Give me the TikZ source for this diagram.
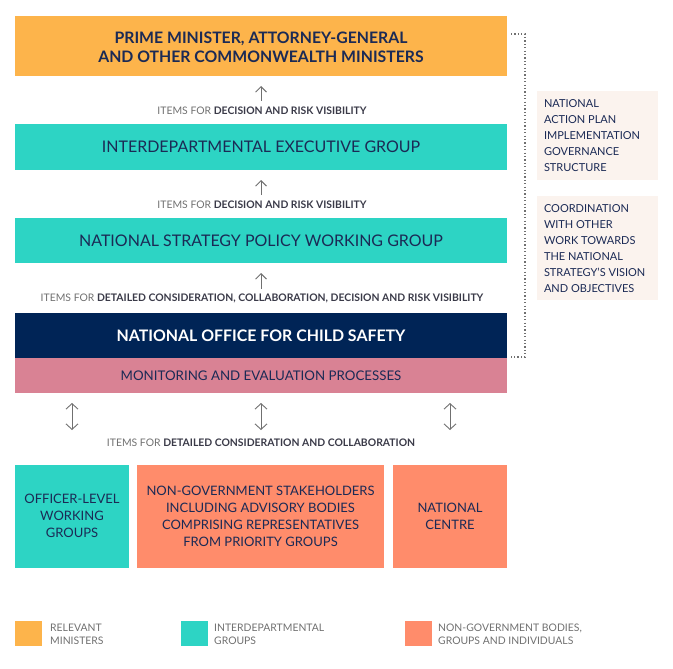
\documentclass[tikz,border=0pt]{standalone}
\usepackage{fontspec}
\setmainfont{Lato}
\usetikzlibrary{arrows.meta}
\definecolor{cOrange}{HTML}{FDB44B}
\definecolor{cTeal}{HTML}{2DD4C4}
\definecolor{cNavy}{HTML}{002456}
\definecolor{cPink}{HTML}{D98294}
\definecolor{cSalmon}{HTML}{FF8C6B}
\definecolor{cPeach}{HTML}{FBF3EE}
\definecolor{cText}{HTML}{1B2A55}
\definecolor{cGray}{HTML}{707070}
\definecolor{cDark}{HTML}{3A3A48}
\begin{document}
\begin{tikzpicture}[x=1pt,y=-1pt,
  box/.style={inner sep=0pt, outer sep=0pt, align=center, text=cText},
  sidebox/.style={fill=cPeach, inner sep=0pt, outer sep=0pt, text=cText, font=\fontsize{11}{16}\selectfont},
  itemlbl/.style={inner sep=0pt, text=cGray, font=\fontsize{10.4}{12}\selectfont},
  legtxt/.style={inner sep=0pt, anchor=west, align=left, text=cGray, font=\fontsize{10.4}{13}\selectfont},
  upar/.style={draw=cGray, line width=0.9pt, -{Straight Barb[length=5.5pt,width=11pt]}},
  dblar/.style={draw=cGray, line width=0.9pt, {Straight Barb[length=5.5pt,width=12pt]}-{Straight Barb[length=5.5pt,width=12pt]}},
  dotline/.style={draw=cGray, line width=1.2pt, dash pattern=on 1.2pt off 2.2pt}
]
\useasboundingbox (0,0) rectangle (673,669);

% main stack
\node[box, fill=cOrange, minimum width=492pt, minimum height=60pt,
  font=\fontsize{15.8}{18.5}\selectfont\bfseries] (pm) at (261,46) {};
\node[box, font=\fontsize{15.8}{18.5}\selectfont\bfseries] (pmt) at (261,47.5)
  {PRIME MINISTER, ATTORNEY-GENERAL\\AND OTHER COMMONWEALTH MINISTERS};
\node[box, fill=cTeal, minimum width=492pt, minimum height=46pt,
  font=\fontsize{16}{18}\selectfont] (ieg) at (261,147) {INTERDEPARTMENTAL EXECUTIVE GROUP};
\node[box, fill=cTeal, minimum width=492pt, minimum height=45pt,
  font=\fontsize{16}{18}\selectfont] (nsp) at (261,240.5) {NATIONAL STRATEGY POLICY WORKING GROUP};
\node[box, fill=cNavy, text=white, minimum width=492pt, minimum height=45pt,
  font=\fontsize{15.9}{18}\selectfont\bfseries] (nocs) at (261,335.5) {NATIONAL OFFICE FOR CHILD SAFETY};
\node[box, fill=cPink, minimum width=492pt, minimum height=35pt,
  font=\fontsize{13.3}{16}\selectfont] (mon) at (261,375.5) {MONITORING AND EVALUATION PROCESSES};

% labels
\node[itemlbl] (l1) at (262,110.5) {ITEMS FOR \textcolor{cDark}{\bfseries DECISION AND RISK VISIBILITY}};
\node[itemlbl] (l2) at (262,204.5) {ITEMS FOR \textcolor{cDark}{\bfseries DECISION AND RISK VISIBILITY}};
\node[itemlbl] (l3) at (262,298.5) {ITEMS FOR \textcolor{cDark}{\bfseries DETAILED CONSIDERATION, COLLABORATION, DECISION AND RISK VISIBILITY}};
\node[itemlbl] (l4) at (261,442.5) {ITEMS FOR \textcolor{cDark}{\bfseries DETAILED CONSIDERATION AND COLLABORATION}};

% up arrows
\coordinate (a1s) at (261,101); \coordinate (a1e) at (261,86);
\coordinate (a2s) at (261,195); \coordinate (a2e) at (261,180);
\coordinate (a3s) at (261,289); \coordinate (a3e) at (261,273);
\draw[upar] (a1s) -- (a1e);
\draw[upar] (a2s) -- (a2e);
\draw[upar] (a3s) -- (a3e);

% double arrows
\coordinate (d1s) at (72,403); \coordinate (d1e) at (72,430);
\coordinate (d2s) at (261,403); \coordinate (d2e) at (261,430);
\coordinate (d3s) at (450,403); \coordinate (d3e) at (450,430);
\draw[dblar] (d1s) -- (d1e);
\draw[dblar] (d2s) -- (d2e);
\draw[dblar] (d3s) -- (d3e);

% bottom boxes
\node[box, fill=cTeal, minimum width=114pt, minimum height=103pt,
  font=\fontsize{13}{17}\selectfont] (olw) at (72,516) {OFFICER-LEVEL\\WORKING\\GROUPS};
\node[box, fill=cSalmon, minimum width=247pt, minimum height=103pt,
  font=\fontsize{13}{17}\selectfont] (ngs) at (260.5,516)
  {NON-GOVERNMENT STAKEHOLDERS\\INCLUDING ADVISORY BODIES\\COMPRISING REPRESENTATIVES\\FROM PRIORITY GROUPS};
\node[box, fill=cSalmon, minimum width=114pt, minimum height=103pt,
  font=\fontsize{13}{17}\selectfont] (nc) at (450,516) {NATIONAL\\CENTRE};

% side boxes
\node[sidebox, minimum width=121pt, minimum height=89pt] (sb1) at (597.5,135.5) {};
\node[sidebox, anchor=north west, align=left] (sb1t) at (544,99.5) {NATIONAL\\ACTION PLAN\\IMPLEMENTATION\\GOVERNANCE\\STRUCTURE};
\node[sidebox, minimum width=121pt, minimum height=104pt] (sb2) at (597.5,248) {};
\node[sidebox, anchor=north west, align=left] (sb2t) at (544,204.5) {COORDINATION\\WITH OTHER\\WORK TOWARDS\\THE NATIONAL\\STRATEGY'S VISION\\AND OBJECTIVES};

% dotted bracket
\coordinate (bt1) at (511,34); \coordinate (bt2) at (525,34);
\coordinate (bb2) at (525,357); \coordinate (bb1) at (511,357);
\draw[dotline] (bt1) -- (bt2) -- (bb2) -- (bb1);

% legend
\node[fill=cOrange, minimum width=27pt, minimum height=25pt, inner sep=0pt] (lg1) at (28.5,633.5) {};
\node[legtxt] (lg1t) at (50,634) {RELEVANT\\MINISTERS};
\node[fill=cTeal, minimum width=27pt, minimum height=25pt, inner sep=0pt] (lg2) at (194.5,633.5) {};
\node[legtxt] (lg2t) at (214,634) {INTERDEPARTMENTAL\\GROUPS};
\node[fill=cSalmon, minimum width=27pt, minimum height=25pt, inner sep=0pt] (lg3) at (418.5,633.5) {};
\node[legtxt] (lg3t) at (438,634) {NON-GOVERNMENT BODIES,\\GROUPS AND INDIVIDUALS};
\end{tikzpicture}
\end{document}
